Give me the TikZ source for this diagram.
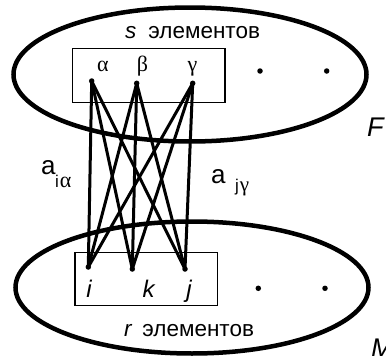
\documentclass[tikz,border=0pt]{standalone}
\usepackage{fontspec}
\setmainfont{Liberation Sans}
\newfontfamily\grk{Liberation Serif}
\begin{document}
\begin{tikzpicture}[x=1pt,y=-1pt,
  ell/.style={line width=4.5pt},
  box/.style={line width=1.4pt},
  pt/.style={circle,fill,inner sep=0pt,minimum size=5.5pt},
  link/.style={line width=3pt},
  txt/.style={inner sep=0pt,anchor=base west},
  ctxt/.style={inner sep=0pt,anchor=base}]
\useasboundingbox (0,0) rectangle (386,356);
\draw[ell] (190,74.5) ellipse [x radius=176.5, y radius=67];
\draw[ell] (192,287.5) ellipse [x radius=176.5, y radius=66];
\draw[box] (72.7,48.3) rectangle (225,102.7);
\draw[box] (75,252.7) rectangle (217.3,305.7);
\node[pt] (al) at (91.7,81) {};
\node[pt] (be) at (136.7,83.3) {};
\node[pt] (ga) at (192.7,83.3) {};
\node[pt] (i) at (88.3,267) {};
\node[pt] (k) at (132.3,269) {};
\node[pt] (j) at (185,269) {};
\node[pt] (t1) at (260,71) {};
\node[pt] (t2) at (326.7,71) {};
\node[pt] (b1) at (258.3,288.3) {};
\node[pt] (b2) at (325,288.3) {};
\foreach \u in {al,be,ga}
  \foreach \v in {i,k,j}
    \draw[link] (\u.center) -- (\v.center);
\node[txt,font=\fontsize{22.5}{22.5}\selectfont] (stext) at (125,38) {\textit{s}\hspace{12pt}элементов};
\node[txt,font=\fontsize{22.5}{22.5}\selectfont] (rtext) at (124,336) {\textit{r}\hspace{10pt}элементов};
\node[ctxt,font=\fontsize{22}{22}\selectfont\grk] (lal) at (103,71) {α};
\node[ctxt,font=\fontsize{22}{22}\selectfont\grk] (lbe) at (142.5,71) {β};
\node[ctxt,font=\fontsize{22}{22}\selectfont\grk] (lga) at (192.5,71) {γ};
\node[ctxt,font=\fontsize{24}{24}\selectfont\itshape] (li) at (89,297) {i};
\node[ctxt,font=\fontsize{24}{24}\selectfont\itshape] (lk) at (148.5,297) {k};
\node[ctxt,font=\fontsize{24}{24}\selectfont\itshape] (lj) at (189,297) {j};
\node[txt,font=\fontsize{27}{27}\selectfont\itshape] (F) at (367,136) {F};
\node[txt,font=\fontsize{27}{27}\selectfont\itshape] (M) at (371,357.5) {M};
\node[txt,font=\fontsize{26}{26}\selectfont] (a1) at (41,174) {a};
\node[txt,font=\fontsize{17}{17}\selectfont] (s1) at (55,187) {i\hspace{1pt}{\fontsize{22}{22}\selectfont\grk α}};
\node[txt,font=\fontsize{26}{26}\selectfont] (a2) at (211,183) {a};
\node[txt,font=\fontsize{17}{17}\selectfont] (s2) at (235,191) {j\hspace{1pt}{\fontsize{21}{21}\selectfont\grk γ}};
\end{tikzpicture}
\end{document}
